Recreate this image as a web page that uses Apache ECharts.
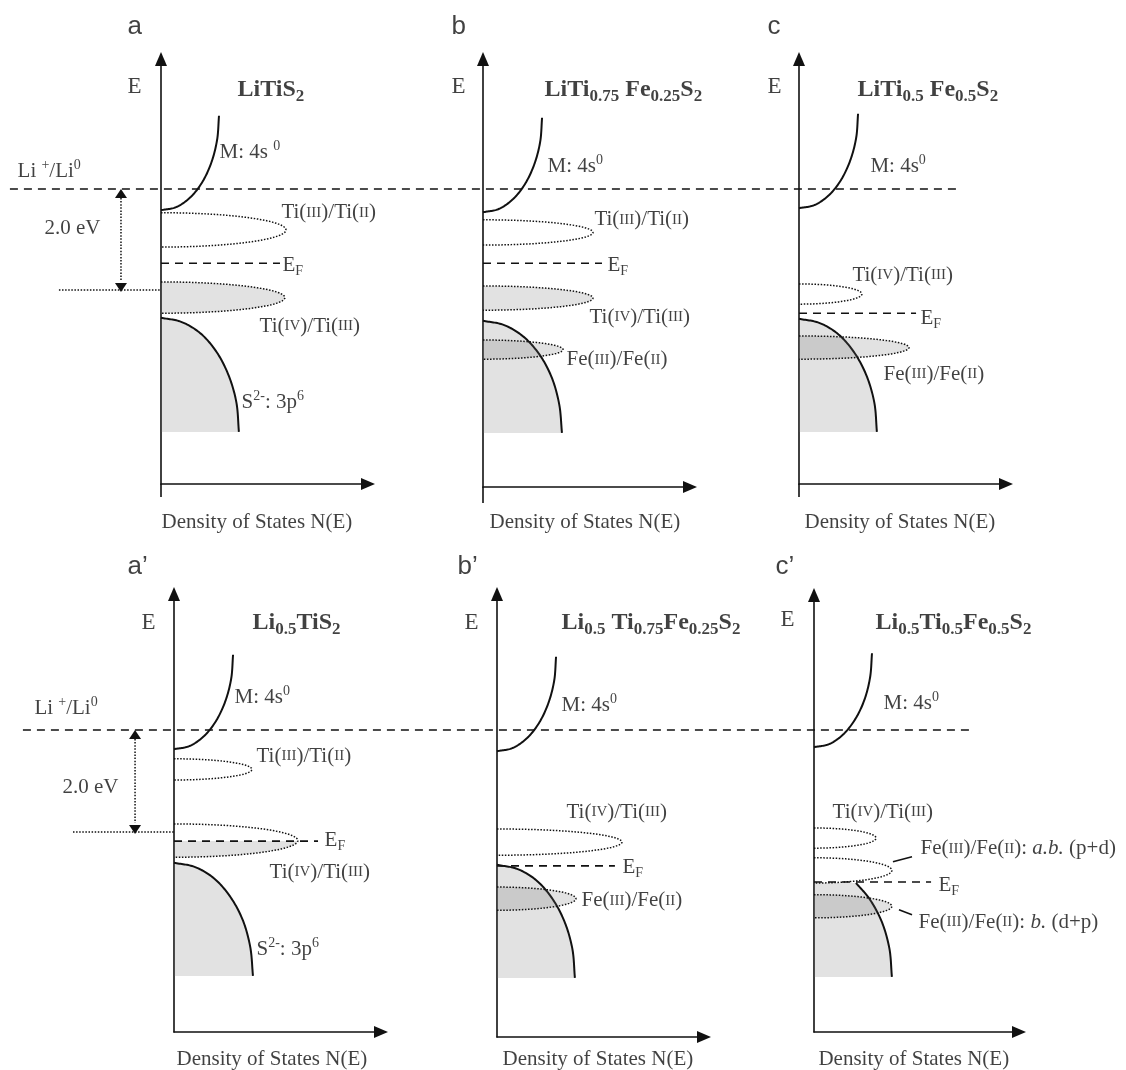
<!DOCTYPE html>
<html>
<head>
<meta charset="utf-8">
<script src="https://cdn.jsdelivr.net/npm/echarts@6/dist/echarts.min.js"></script>
<style>
html,body{margin:0;padding:0;background:#fff}
#main{width:1126px;height:1070px}
</style>
</head>
<body>
<div id="main"></div>
<script>
var chart = echarts.init(document.getElementById('main'));

// energy in eV relative to Li+/Li0, density of states in arbitrary units
// M: 4s0 conduction band edge, points [N(E), E]
var mBand_a  = [[0,-0.42],[0.70,-0.36],[1.36,-0.17],[1.92,0.13],[2.35,0.52],[2.62,0.97],[2.71,1.45]];
var mBand_b  = [[0,-0.46],[0.71,-0.40],[1.38,-0.21],[1.95,0.09],[2.39,0.48],[2.67,0.93],[2.76,1.41]];
var mBand_c  = [[0,-0.38],[0.71,-0.32],[1.38,-0.13],[1.95,0.17],[2.39,0.56],[2.67,1.01],[2.76,1.49]];
var mBand_a2 = [[0,-0.38],[0.71,-0.32],[1.38,-0.13],[1.95,0.17],[2.39,0.56],[2.67,1.01],[2.76,1.49]];
var mBand_b2 = [[0,-0.42],[0.71,-0.36],[1.38,-0.17],[1.95,0.13],[2.39,0.52],[2.67,0.97],[2.76,1.45]];
var mBand_c2 = [[0,-0.34],[0.70,-0.28],[1.36,-0.09],[1.92,0.21],[2.35,0.59],[2.62,1.04],[2.71,1.52]];

// S2-: 3p6 valence band edge, points [N(E), E]
var sBand_a  = [[0,-2.55],[0.94,-2.63],[1.82,-2.85],[2.57,-3.21],[3.15,-3.68],[3.52,-4.22],[3.64,-4.81]];
var sBand_b  = [[0,-2.61],[0.96,-2.69],[1.85,-2.91],[2.61,-3.26],[3.20,-3.72],[3.56,-4.26],[3.69,-4.83]];
var sBand_c  = [[0,-2.57],[0.94,-2.65],[1.82,-2.87],[2.57,-3.23],[3.15,-3.69],[3.52,-4.23],[3.64,-4.81]];
var sBand_a2 = [[0,-2.63],[0.96,-2.71],[1.85,-2.93],[2.61,-3.29],[3.20,-3.75],[3.56,-4.29],[3.69,-4.87]];
var sBand_b2 = [[0,-2.67],[0.94,-2.75],[1.82,-2.97],[2.57,-3.33],[3.15,-3.79],[3.52,-4.33],[3.64,-4.91]];
var sBand_c2 = [[1.96,-3.03],[2.57,-3.33],[3.15,-3.78],[3.52,-4.32],[3.64,-4.89]];

// redox levels: [centre E, half height, N(E) extent, filled up to E (null = empty)]
var levels_a  = [[-0.81,0.34,5.84,null],[-2.15,0.31,5.79,-1.84]];
var levels_b  = [[-0.86,0.25,5.14,null],[-2.16,0.24,5.14,-1.92],[-3.18,0.19,3.74,-2.99]];
var levels_c  = [[-2.08,0.20,2.94,null],[-3.14,0.23,5.14,-2.91]];
var levels_a2 = [[-0.78,0.21,3.64,null],[-2.19,0.33,5.79,-2.20]];
var levels_b2 = [[-2.22,0.26,5.84,null],[-3.34,0.23,3.69,-3.11]];
var levels_c2 = [[-2.14,0.20,2.90,null],[-2.78,0.25,3.64,null],[-3.49,0.23,3.64,-3.26]];

// Fermi level: [E, N(E) extent]
var ef_a = [-1.47,5.56], ef_b = [-1.47,5.56], ef_c = [-2.46,5.47];
var ef_a2 = [-2.20,6.73], ef_b2 = [-2.69,5.51], ef_c2 = [-3.01,5.47];

// leader lines in c' : [N1, E1, N2, E2]
var leaders_c2 = [[3.69,-2.61,4.58,-2.51],[3.97,-3.56,4.58,-3.66]];

// Li+/Li0 reference and the 2.0 eV gap (row overlay units)
var liLine = [-7.06, 37.15];
var gapArrow_top = [-1.87, 0, -2.0], gapLevel_top = [-4.77, 0, -2.0];
var gapArrow_bot = [-1.82, 0, -2.02], gapLevel_bot = [-4.72, 0, -2.02];

var TI32 = '{t|Ti(}{sc|III}{t|)/Ti(}{sc|II}{t|)}';
var TI43 = '{t|Ti(}{sc|IV}{t|)/Ti(}{sc|III}{t|)}';
var FE32 = '{t|Fe(}{sc|III}{t|)/Fe(}{sc|II}{t|)}';
var EF = '{t|E}{sub|F}';
var M4S = '{t|M: 4s}{sup|0}';
var S3P = '{t|S}{sup|2-}{t|: 3p}{sup|6}';
var DOS = '{t|Density of States N(E)}';
var EAX = '{e|E}';

var labels_a = [[-1.54,3.2,'{L|a}'],[-1.54,2.02,EAX],[3.6,1.96,'{B|LiTiS}{Bs|2}'],[2.76,0.71,'{t|M: 4s }{sup|0}'],
  [5.65,-0.48,TI32],[5.7,-1.52,EF],[4.63,-2.73,TI43],[3.79,-4.24,S3P],[0.05,-6.61,DOS]];
var labels_b = [[-1.45,3.2,'{L|b}'],[-1.45,2.02,EAX],[2.90,1.96,'{B|LiTi}{Bs|0.75}{B| Fe}{Bs|0.25}{B|S}{Bs|2}'],[3.04,0.44,M4S],
  [5.23,-0.62,TI32],[5.84,-1.52,EF],[5.0,-2.55,TI43],[3.93,-3.39,FE32],[0.33,-6.61,DOS]];
var labels_c = [[-1.45,3.2,'{L|c}'],[-1.45,2.02,EAX],[2.76,1.96,'{B|LiTi}{Bs|0.5}{B| Fe}{Bs|0.5}{B|S}{Bs|2}'],[3.36,0.44,M4S],
  [2.52,-1.72,TI43],[5.70,-2.58,EF],[3.97,-3.68,FE32],[0.28,-6.61,DOS]];
var labels_a2 = [[-2.15,3.23,'{L|a’}'],[-1.50,2.10,EAX],[3.69,2.12,'{B|Li}{Bs|0.5}{B|TiS}{Bs|2}'],[2.85,0.63,M4S],
  [3.88,-0.53,TI32],[7.06,-2.20,EF],[4.49,-2.83,TI43],[3.88,-4.36,S3P],[0.14,-6.53,DOS]];
var labels_b2 = [[-1.82,3.23,'{L|b’}'],[-1.50,2.10,EAX],[3.04,2.12,'{B|Li}{Bs|0.5}{B| Ti}{Bs|0.75}{B|Fe}{Bs|0.25}{B|S}{Bs|2}'],[3.04,0.48,M4S],
  [3.27,-1.64,TI43],[5.89,-2.73,EF],[3.97,-3.39,FE32],[0.28,-6.53,DOS]];
var labels_c2 = [[-1.78,3.23,'{L|c’}'],[-1.54,2.16,EAX],[2.90,2.12,'{B|Li}{Bs|0.5}{B|Ti}{Bs|0.5}{B|Fe}{Bs|0.5}{B|S}{Bs|2}'],[3.27,0.51,M4S],
  [0.89,-1.64,TI43],[5.0,-2.36,'{t|Fe(}{sc|III}{t|)/Fe(}{sc|II}{t|): }{it|a.b.}{t| (p+d)}'],[5.84,-3.09,EF],
  [4.91,-3.82,'{t|Fe(}{sc|III}{t|)/Fe(}{sc|II}{t|): }{it|b.}{t| (d+p)}'],[0.23,-6.53,DOS]];
var liLabels_top = [[-6.68,0.34,'{t|Li }{sup|+}{t|/Li}{sup|0}'],[-5.42,-0.79,'{t|2.0 eV}']];
var liLabels_bot = [[-6.50,0.42,'{t|Li }{sup|+}{t|/Li}{sup|0}'],[-5.19,-1.15,'{t|2.0 eV}']];

// ---- layout (pixels) ----
var EV_PX = 50.5, DOS_PX = 21.4, ARROW = 7;
var layout = [
  {x0:161, yTip:52,  yBase:484,  xTip:375,  liY:189, stub:497},
  {x0:483, yTip:52,  yBase:487,  xTip:697,  liY:189, stub:503},
  {x0:799, yTip:52,  yBase:484,  xTip:1013, liY:189, stub:497},
  {x0:174, yTip:587, yBase:1032, xTip:388,  liY:730, stub:null},
  {x0:497, yTip:587, yBase:1037, xTip:711,  liY:730, stub:null},
  {x0:814, yTip:588, yBase:1032, xTip:1026, liY:730, stub:null}
];
var panels = [
  {m:mBand_a,  s:sBand_a,  lv:levels_a,  ef:ef_a,  lb:labels_a},
  {m:mBand_b,  s:sBand_b,  lv:levels_b,  ef:ef_b,  lb:labels_b},
  {m:mBand_c,  s:sBand_c,  lv:levels_c,  ef:ef_c,  lb:labels_c},
  {m:mBand_a2, s:sBand_a2, lv:levels_a2, ef:ef_a2, lb:labels_a2},
  {m:mBand_b2, s:sBand_b2, lv:levels_b2, ef:ef_b2, lb:labels_b2},
  {m:mBand_c2, s:sBand_c2, lv:levels_c2, ef:ef_c2, lb:labels_c2, leaders:leaders_c2}
];

var SERIF = '"Liberation Serif", "Times New Roman", serif';
var SANS = '"Liberation Sans", Arial, sans-serif';
var INK = '#111';
var FILL = 'rgba(110,110,110,0.2)';
var DOT = [1.5, 1.6], DASH = [8, 6];

var RICH = {
  t:  {fontFamily:SERIF, fontSize:21, lineHeight:26, color:INK},
  it: {fontFamily:SERIF, fontSize:21, lineHeight:26, fontStyle:'italic', color:INK},
  sc: {fontFamily:SERIF, fontSize:15, lineHeight:22, verticalAlign:'middle', color:INK},
  sup:{fontFamily:SERIF, fontSize:14, lineHeight:14, verticalAlign:'top', color:INK},
  sub:{fontFamily:SERIF, fontSize:14, lineHeight:14, verticalAlign:'bottom', color:INK},
  e:  {fontFamily:SERIF, fontSize:23, lineHeight:26, color:INK},
  B:  {fontFamily:SERIF, fontSize:24, lineHeight:32, fontWeight:'bold', color:INK},
  Bs: {fontFamily:SERIF, fontSize:17, lineHeight:17, fontWeight:'bold', verticalAlign:'bottom', color:INK},
  L:  {fontFamily:SANS, fontSize:26, lineHeight:30, color:INK}
};

// centripetal Catmull-Rom through the given pixel points
function spline(P, n) {
  var out = [], L = P.length;
  function lerp(a, b, ta, tb, t) {
    var u = (t - ta) / (tb - ta);
    return [a[0] + (b[0] - a[0]) * u, a[1] + (b[1] - a[1]) * u];
  }
  function knot(t, a, b) { return t + (Math.pow(Math.hypot(b[0] - a[0], b[1] - a[1]), 0.5) || 1e-6); }
  for (var i = 0; i < L - 1; i++) {
    var p1 = P[i], p2 = P[i + 1];
    var p0 = i > 0 ? P[i - 1] : [2 * p1[0] - p2[0], 2 * p1[1] - p2[1]];
    var p3 = i + 2 < L ? P[i + 2] : [2 * p2[0] - p1[0], 2 * p2[1] - p1[1]];
    var t0 = 0, t1 = knot(t0, p0, p1), t2 = knot(t1, p1, p2), t3 = knot(t2, p2, p3);
    for (var k = 0; k < n; k++) {
      var t = t1 + (t2 - t1) * k / n;
      var A1 = lerp(p0, p1, t0, t1, t), A2 = lerp(p1, p2, t1, t2, t), A3 = lerp(p2, p3, t2, t3, t);
      var B1 = lerp(A1, A2, t0, t2, t), B2 = lerp(A2, A3, t1, t3, t);
      out.push(lerp(B1, B2, t1, t2, t));
    }
  }
  out.push(P[L - 1]);
  return out;
}

function bandItem(pts, filled) {
  return function (params, api) {
    var curve = spline(pts.map(function (p) { return api.coord(p); }), 16);
    var kids = [];
    if (filled) {
      var top = api.coord([0, pts[0][1]]), bot = api.coord([0, pts[pts.length - 1][1]]);
      kids.push({type:'polygon', shape:{points:[top].concat(curve, [bot])}, style:{fill:FILL}});
    }
    kids.push({type:'polyline', shape:{points:curve}, style:{stroke:INK, lineWidth:2, fill:'none'}});
    return {type:'group', children:kids};
  };
}

function levelItem(levels) {
  return function (params, api) {
    var r = levels[params.dataIndex];
    var c = api.coord([0, r[0]]), tp = api.coord([0, r[0] + r[1]]), e = api.coord([r[2], r[0]]);
    var rx = e[0] - c[0], ry = c[1] - tp[1], ring = [];
    for (var k = 0; k <= 60; k++) {
      var a = -Math.PI / 2 + Math.PI * k / 60;
      ring.push([c[0] + rx * Math.cos(a), c[1] + ry * Math.sin(a)]);
    }
    var kids = [];
    if (r[3] != null) {
      var yf = api.coord([0, r[3]])[1];
      var a0 = Math.asin(Math.max(-1, Math.min(1, (yf - c[1]) / ry)));
      var area = [[c[0], yf], [c[0] + rx * Math.cos(a0), yf]].concat(ring.filter(function (p) { return p[1] > yf; }));
      kids.push({type:'polygon', shape:{points:area}, style:{fill:FILL}});
    }
    kids.push({type:'polyline', shape:{points:ring}, style:{stroke:INK, lineWidth:1.5, lineDash:DOT, fill:'none'}});
    return {type:'group', children:kids};
  };
}

function segItem(rows, st) {
  return function (params, api) {
    var r = rows[params.dataIndex];
    var p1 = api.coord([r[0], r[1]]), p2 = api.coord([r[2], r[3]]);
    return {type:'line', shape:{x1:p1[0], y1:p1[1], x2:p2[0], y2:p2[1]}, style:Object.assign({fill:'none'}, st)};
  };
}

function arrowItem(r) {
  return function (params, api) {
    var a = api.coord([r[0], r[1]]), b = api.coord([r[0], r[2]]), w = 6, h = 9;
    return {type:'group', children:[
      {type:'line', shape:{x1:a[0], y1:a[1] + h, x2:b[0], y2:b[1] - h}, style:{stroke:INK, lineWidth:1.5, lineDash:DOT}},
      {type:'polygon', shape:{points:[[a[0], a[1]], [a[0] - w, a[1] + h], [a[0] + w, a[1] + h]]}, style:{fill:INK}},
      {type:'polygon', shape:{points:[[b[0], b[1] + 2], [b[0] - w, b[1] - h + 2], [b[0] + w, b[1] - h + 2]]}, style:{fill:INK}}
    ]};
  };
}

function custom(i, n, fn) {
  var data = [];
  for (var k = 0; k < n; k++) data.push([0, 0]);
  return {type:'custom', xAxisIndex:i, yAxisIndex:i, silent:true, clip:false, data:data, renderItem:fn};
}

function labelSeries(i, rows) {
  return {
    type:'scatter', xAxisIndex:i, yAxisIndex:i, clip:false, silent:true, symbolSize:1,
    itemStyle:{color:'rgba(0,0,0,0)'},
    data:rows.map(function (r) { return [r[0], r[1]]; }),
    label:{show:true, position:[0, 0], align:'left', verticalAlign:'middle', color:INK,
      fontFamily:SERIF, rich:RICH, formatter:function (p) { return rows[p.dataIndex][2]; }}
  };
}

var grids = [], xAxes = [], yAxes = [], series = [];
var axisLine = {show:true, onZero:false, symbol:['none', 'triangle'], symbolSize:[12, 14],
  lineStyle:{color:INK, width:1.6}};

layout.forEach(function (g, i) {
  var top = g.yTip + ARROW, width = g.xTip - ARROW - g.x0, height = g.yBase - top;
  grids.push({left:g.x0, top:top, width:width, height:height});
  xAxes.push({type:'value', gridIndex:i, min:0, max:width / DOS_PX, axisLine:axisLine,
    axisTick:{show:false}, axisLabel:{show:false}, splitLine:{show:false}});
  yAxes.push({type:'value', gridIndex:i, min:(g.liY - g.yBase) / EV_PX, max:(g.liY - top) / EV_PX,
    axisLine:axisLine, axisTick:{show:false}, axisLabel:{show:false}, splitLine:{show:false}});

  var p = panels[i];
  series.push(custom(i, 1, bandItem(p.s, true)));
  series.push(custom(i, p.lv.length, levelItem(p.lv)));
  series.push(custom(i, 1, bandItem(p.m, false)));
  series.push(custom(i, 1, segItem([[0, p.ef[0], p.ef[1], p.ef[0]]], {stroke:INK, lineWidth:1.6, lineDash:DASH})));
  if (g.stub) {
    var yMin = (g.liY - g.yBase) / EV_PX;
    series.push(custom(i, 1, segItem([[0, yMin, 0, (g.liY - g.stub) / EV_PX]], {stroke:INK, lineWidth:1.6})));
  }
  if (p.leaders) series.push(custom(i, p.leaders.length, segItem(p.leaders, {stroke:INK, lineWidth:1.6})));
  series.push(labelSeries(i, p.lb));
});

// row overlays carrying the Li+/Li0 level and the 2.0 eV gap (units of panels a / a')
[[0, liLabels_top, gapArrow_top, gapLevel_top], [3, liLabels_bot, gapArrow_bot, gapLevel_bot]].forEach(function (o) {
  var g = layout[o[0]], idx = grids.length;
  var top = g.yTip + ARROW, height = g.yBase - top;
  grids.push({left:0, top:top, width:1126, height:height});
  xAxes.push({type:'value', gridIndex:idx, min:-g.x0 / DOS_PX, max:(1126 - g.x0) / DOS_PX, show:false});
  yAxes.push({type:'value', gridIndex:idx, min:(g.liY - g.yBase) / EV_PX, max:(g.liY - top) / EV_PX, show:false});
  series.push(custom(idx, 1, segItem([[liLine[0], 0, liLine[1], 0]], {stroke:INK, lineWidth:1.6, lineDash:DASH})));
  series.push(custom(idx, 1, segItem([[o[3][0], o[3][2], o[3][1], o[3][2]]], {stroke:INK, lineWidth:1.5, lineDash:DOT})));
  series.push(custom(idx, 1, arrowItem(o[2])));
  series.push(labelSeries(idx, o[1]));
});

chart.setOption({
  animation:false,
  backgroundColor:'#fff',
  grid:grids,
  xAxis:xAxes,
  yAxis:yAxes,
  series:series
});
</script>
</body>
</html>
